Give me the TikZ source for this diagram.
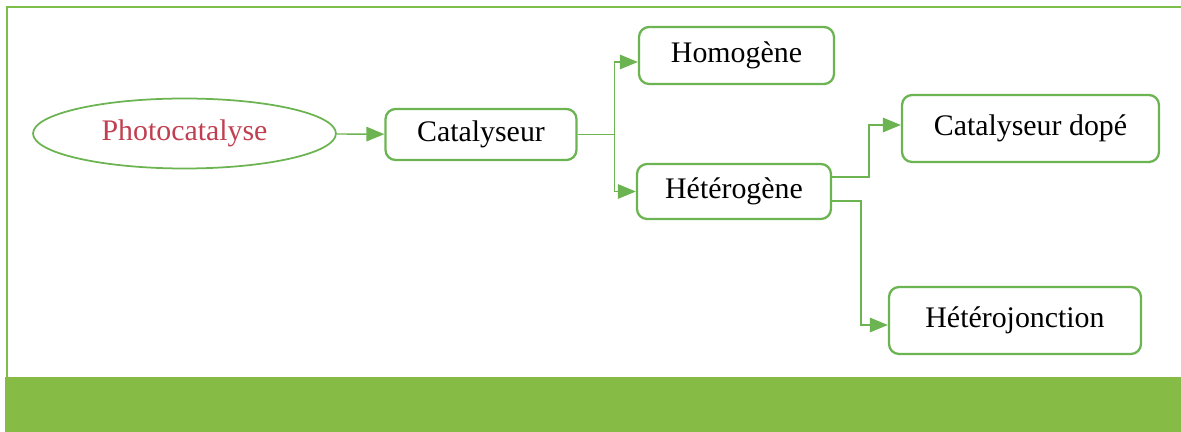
\documentclass[tikz,border=0pt]{standalone}
\usepackage{fontspec}
\setmainfont{Liberation Serif}
\usepackage{xcolor}
\usetikzlibrary{shapes.geometric,arrows.meta,positioning,calc}

\definecolor{framegreen}{RGB}{124,190,74}
\definecolor{bargreen}{RGB}{134,188,69}
\definecolor{boxgreen}{RGB}{108,180,82}
\definecolor{photored}{RGB}{192,64,82}

\begin{document}
\begin{tikzpicture}[
    x=0.02cm,
    y=-0.02cm,
    font=\fontsize{17}{20}\selectfont,
    block/.style={
        rectangle,
        draw=boxgreen,
        line width=1.3pt,
        fill=white,
        rounded corners=0.2cm,
        text centered,
        inner sep=0pt
    },
    cloud/.style={
        draw=boxgreen,
        ellipse,
        line width=1pt,
        text=photored,
        minimum width=6.06cm,
        minimum height=1.4cm,
        inner sep=0pt
    },
    line/.style={
        draw=boxgreen,
        line width=0.8pt,
        -{Triangle[length=0.36cm,width=0.29cm]}
    },
    link/.style={
        draw=boxgreen,
        line width=0.8pt
    }
]

\useasboundingbox (0,0) rectangle (1181,432);

% Frame
\fill [bargreen] (5,377) rectangle (1181,432);
\draw [framegreen, line width=1.4pt] (7,377) -- (7,7) -- (1181,7);

% Nodes
\node [cloud] (photo) at (184.5,133.5) {Photocatalyse};
\node [block, minimum width=3.82cm, minimum height=1.02cm] (cat) at (481,134.5) {Catalyseur};
\node [block, minimum width=3.9cm, minimum height=1.14cm] (homo) at (736.5,55.5) {Homogène};
\node [block, minimum width=3.88cm, minimum height=1.1cm] (hetero) at (734,191.5) {Hétérogène};
\node [block, minimum width=5.14cm, minimum height=1.34cm] (dope) at (1030.5,128.5) {Catalyseur dopé};
\node [block, minimum width=5.04cm, minimum height=1.34cm] (jonc) at (1015,320.5) {Hétérojonction};

% Edges
\path [line] (photo) -- (cat);
\path [link] (cat.east) -- ++(37,0) coordinate (split);
\path [line] (split) |- ([yshift=-0.13cm]homo.west);
\path [line] (split) |- (hetero.west);
\path [line] ([yshift=0.29cm]hetero.east) -- ++(37,0) |- ([yshift=0.07cm]dope.west);
\path [line] ([yshift=-0.19cm]hetero.east) -- ++(29,0) |- ([yshift=-0.09cm]jonc.west);

\end{tikzpicture}
\end{document}
